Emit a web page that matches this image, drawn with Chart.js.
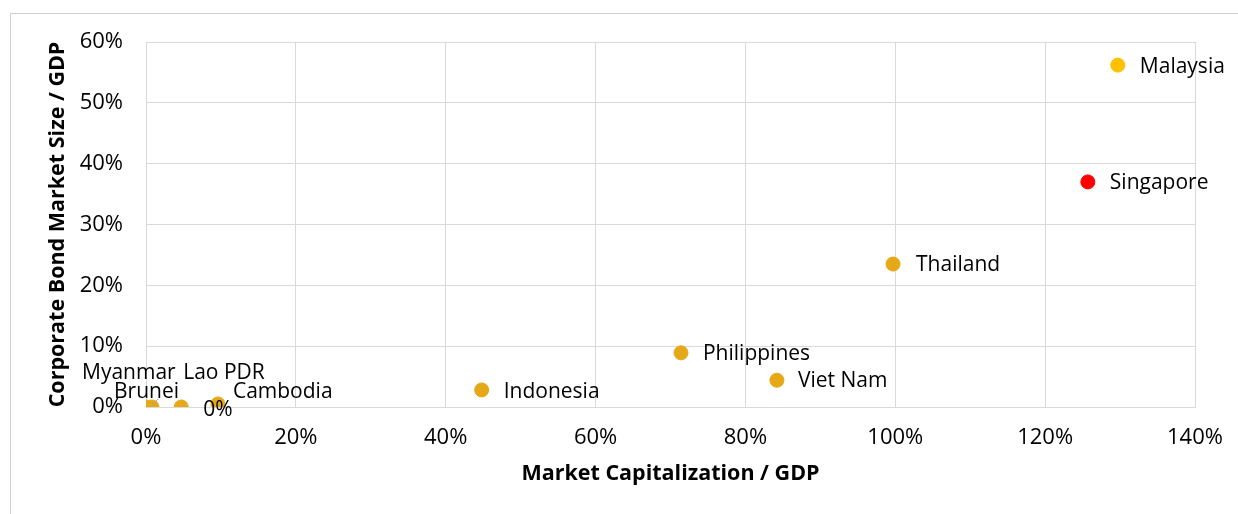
<!DOCTYPE html>
<html>
<head>
<meta charset="utf-8">
<script src="https://cdn.jsdelivr.net/npm/chart.js@4/dist/chart.umd.min.js"></script>
<style>
  html, body { margin: 0; padding: 0; background: #fff; }
  canvas { display: block; }
</style>
</head>
<body>
<canvas id="myChart" width="1238" height="514"></canvas>
<script>
// data
var countries = ['Brunei', 'Myanmar', 'Lao PDR', 'Cambodia', 'Indonesia', 'Philippines', 'Viet Nam', 'Thailand', 'Singapore', 'Malaysia'];
var marketCap = [0.8, 0.0, 4.7, 9.6, 44.8, 71.4, 84.2, 99.7, 125.7, 129.7];
var bondSize  = [0.0, 0.0, 0.0, 0.5, 2.8, 8.9, 4.4, 23.5, 37.0, 56.2];
var xTicks = [0, 20, 40, 60, 80, 100, 120, 140];
var yTicks = [0, 10, 20, 30, 40, 50, 60];
// stray value label that sits next to Lao PDR in the original
var extraLabels = [{ country: 'Lao PDR', text: '0%' }];

// styling
var FONT = "'Open Sans', sans-serif";
var gold = '#E6A817';
var pointColors = countries.map(function (c) {
  if (c === 'Singapore') return '#FF0000';
  if (c === 'Malaysia') return '#FFC000';
  return gold;
});
// label offsets from the point centre (text left edge, text middle)
var labelOffsets = {
  'Brunei': [-38, -15], 'Myanmar': [-64, -34], 'Lao PDR': [2, -34], 'Cambodia': [15, -12],
  'Indonesia': [22, 2], 'Philippines': [22, 1], 'Viet Nam': [21, 1], 'Thailand': [23, 1],
  'Singapore': [22, 1], 'Malaysia': [22, 2]
};

var points = countries.map(function (c, i) { return { x: marketCap[i], y: bondSize[i] }; });

var frame = {
  id: 'frame',
  beforeDraw: function (chart) {
    var ctx = chart.ctx;
    ctx.save();
    ctx.fillStyle = '#fff';
    ctx.fillRect(0, 0, chart.width, chart.height);
    ctx.strokeStyle = '#d0d0d0';
    ctx.lineWidth = 1;
    ctx.strokeRect(10.5, 13.5, chart.width + 20, chart.height + 20);
    ctx.restore();
  }
};

var pointLabels = {
  id: 'pointLabels',
  afterDatasetsDraw: function (chart) {
    var ctx = chart.ctx;
    var meta = chart.getDatasetMeta(0);
    ctx.save();
    ctx.font = '21px ' + FONT;
    ctx.fillStyle = '#000';
    ctx.textAlign = 'left';
    ctx.textBaseline = 'middle';
    countries.forEach(function (c, i) {
      var el = meta.data[i];
      var off = labelOffsets[c];
      if (c === 'Brunei') {
        ctx.strokeStyle = '#a6a6a6';
        ctx.lineWidth = 1;
        ctx.beginPath();
        ctx.moveTo(el.x + 6, el.y - 8);
        ctx.lineTo(el.x, el.y - 1);
        ctx.stroke();
      }
      ctx.fillText(c, el.x + off[0], el.y + off[1]);
    });
    extraLabels.forEach(function (l) {
      var el = meta.data[countries.indexOf(l.country)];
      ctx.fillText(l.text, el.x + 22, el.y + 3);
    });
    ctx.restore();
  }
};

var ctx = document.getElementById('myChart').getContext('2d');
var chart = new Chart(ctx, {
  type: 'scatter',
  data: {
    datasets: [{
      data: points,
      backgroundColor: pointColors,
      borderColor: pointColors,
      pointRadius: 7,
      pointHoverRadius: 7
    }]
  },
  options: {
    responsive: false,
    animation: false,
    devicePixelRatio: 1,
    layout: { padding: { left: 41, top: 42, right: 43, bottom: 25 } },
    plugins: { legend: { display: false }, tooltip: { enabled: false } },
    scales: {
      x: {
        min: 0, max: 140,
        afterBuildTicks: function (s) { s.ticks = xTicks.map(function (v) { return { value: v }; }); },
        afterFit: function (s) { s.height = 82; s.paddingLeft = 0; s.paddingRight = 0; },
        grid: { color: '#d9d9d9', lineWidth: 1, drawTicks: false },
        border: { color: '#d9d9d9' },
        ticks: {
          padding: 18, color: '#000', maxRotation: 0,
          font: { family: FONT, size: 22 },
          callback: function (v) { return v + '%'; }
        },
        title: {
          display: true, text: 'Market Capitalization / GDP', color: '#000',
          font: { family: FONT, size: 21.5, weight: 'bold' }, padding: { top: 4, bottom: 2 }
        }
      },
      y: {
        min: 0, max: 60,
        afterBuildTicks: function (s) { s.ticks = yTicks.map(function (v) { return { value: v }; }); },
        afterFit: function (s) { s.width = 146 - 41; s.paddingTop = 0; s.paddingBottom = 0; },
        grid: { color: '#d9d9d9', lineWidth: 1, drawTicks: false },
        border: { color: '#d9d9d9' },
        ticks: {
          padding: 23, color: '#000',
          font: { family: FONT, size: 22 },
          callback: function (v) { return v + '%'; }
        },
        title: {
          display: true, text: 'Corporate Bond Market Size / GDP', color: '#000',
          font: { family: FONT, size: 21.5, weight: 'bold' }, padding: { top: 4, bottom: 4 }
        }
      }
    }
  },
  plugins: [frame, pointLabels]
});
</script>
</body>
</html>
